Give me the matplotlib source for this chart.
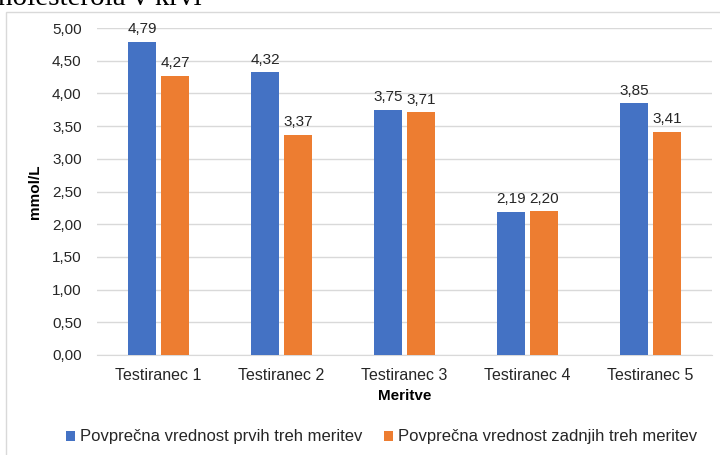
import matplotlib
matplotlib.use("Agg")
import matplotlib.pyplot as plt
import numpy as np
from matplotlib.patches import Rectangle

categories = ["Testiranec 1", "Testiranec 2", "Testiranec 3", "Testiranec 4", "Testiranec 5"]
first_three = [4.79, 4.32, 3.75, 2.19, 3.85]
last_three = [4.27, 3.37, 3.71, 2.20, 3.41]
series_names = ["Povprečna vrednost prvih treh meritev", "Povprečna vrednost zadnjih treh meritev"]
yticks = [0.0, 0.5, 1.0, 1.5, 2.0, 2.5, 3.0, 3.5, 4.0, 4.5, 5.0]

plt.rcParams['font.family'] = ['Liberation Sans', 'DejaVu Sans']
txt = '#262626'
fs = 11

fig = plt.figure(figsize=(7.2, 4.55), dpi=100)
# outer chart border
fig.patches.append(Rectangle((6/720, -0.05), 1.0, 1 - 12/455 + 0.05, transform=fig.transFigure,
                             fill=False, edgecolor='#d9d9d9', linewidth=1.0))
fig.text(-0.003, 1 - 5/455, "holesterola v krvi", family='Liberation Serif', fontsize=21,
         va='baseline', ha='left', color='black')

ax = fig.add_axes([97/720, 1 - 355/455, (712 - 97)/720, (355 - 28)/455])
x = np.arange(len(categories))
w = 0.227
off = 0.134
b1 = ax.bar(x - off, first_three, w, color='#4472C4', label=series_names[0], zorder=3)
b2 = ax.bar(x + off, last_three, w, color='#ED7D31', label=series_names[1], zorder=3)
for bars, vals in ((b1, first_three), (b2, last_three)):
    for r, v in zip(bars, vals):
        ax.annotate(f"{v:.2f}".replace('.', ','), (r.get_x() + r.get_width()/2, v),
                    xytext=(0, 4), textcoords='offset points', ha='center', va='bottom',
                    fontsize=fs, color=txt)

ax.set_xlim(-0.5, len(categories) - 0.5)
ax.set_ylim(0, 5.0)
ax.set_yticks(yticks)
ax.set_yticklabels([f"{t:.2f}".replace('.', ',') for t in yticks])
ax.set_xticks(x)
ax.set_xticklabels(categories)
ax.tick_params(axis='y', length=0, labelsize=fs, colors=txt, pad=11)
ax.tick_params(axis='x', length=0, labelsize=11.5, colors=txt, pad=9)
ax.grid(axis='y', color='#d9d9d9', linewidth=1, zorder=0)
for s in ['top', 'right', 'left']:
    ax.spines[s].set_visible(False)
ax.spines['bottom'].set_color('#d9d9d9')
ax.set_ylabel("mmol/L", fontsize=fs, fontweight='bold', color='black')
ax.set_xlabel("Meritve", fontsize=fs, fontweight='bold', color='black', labelpad=5)
ax.yaxis.set_label_coords(-0.09, 0.5)

fig.legend(handles=[b1, b2], loc='center', bbox_to_anchor=(0.53, 1 - 437/455), ncol=2,
           frameon=False, fontsize=12, handlelength=0.55, handleheight=0.55,
           handletextpad=0.3, columnspacing=1.3, labelcolor=txt)

fig.savefig("out.png", dpi=100)
